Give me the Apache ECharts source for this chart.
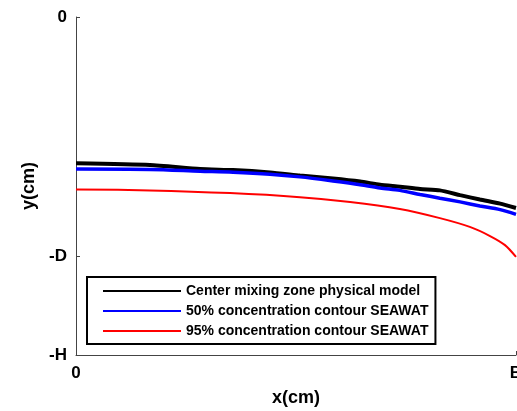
<!DOCTYPE html>
<html>
<head>
<meta charset="utf-8">
<script src="https://cdn.jsdelivr.net/npm/echarts@6/dist/echarts.min.js"></script>
<style>
  html, body { margin: 0; padding: 0; background: #fff; }
  #chart { width: 517px; height: 411px; }
</style>
</head>
<body>
<div id="chart"></div>
<script>
// Horizontal position as percent of the domain width B, depth as percent of H (negative downwards)
const xTickValues = [0, 100];
const xTickLabels = ['0', 'B'];
const yTickValues = [0, -70.7, -100];
const yTickLabels = ['0', '-D', '-H'];

const seriesNames = [
  'Center mixing zone physical model',
  '50% concentration contour SEAWAT',
  '95% concentration contour SEAWAT'
];

const physicalX = [0, 16.8, 28.2, 35.7, 44.1, 50.9, 58.4, 64.6, 69.1, 73.6, 78.2, 82.7, 87.3, 91.8, 96.4, 100];
const physicalY = [-43.3, -43.8, -45.0, -45.3, -46.0, -46.9, -47.8, -48.7, -49.6, -50.2, -50.9, -51.3, -52.7, -54.0, -55.2, -56.5];

const contour50X = [0, 16.8, 28.2, 35.7, 44.1, 50.9, 58.4, 64.6, 69.1, 73.6, 78.2, 82.7, 87.3, 91.8, 96.4, 100];
const contour50Y = [-45.0, -45.1, -45.6, -45.9, -46.5, -47.3, -48.5, -49.6, -50.6, -51.3, -52.5, -53.6, -54.7, -55.9, -57.0, -58.4];

const contour95X = [0, 16.8, 35, 50.9, 62.3, 73.6, 82.7, 89.5, 94.1, 97.5, 100];
const contour95Y = [-51.0, -51.3, -52.1, -53.3, -54.7, -56.8, -59.5, -62.1, -64.8, -67.5, -71.0];

function pairs(xs, ys) { return xs.map((x, i) => [x, ys[i]]); }

const font = 'Arial, "Liberation Sans", Helvetica, sans-serif';
const axisColor = '#444';

const chart = echarts.init(document.getElementById('chart'), null, { renderer: 'canvas' });

chart.setOption({
  animation: false,
  backgroundColor: '#fff',
  grid: { left: 76, top: 17, right: 1, bottom: 56, containLabel: false, outerBoundsMode: 'none' },
  legend: {
    orient: 'vertical',
    left: 87,
    top: 277,
    itemWidth: 78,
    itemHeight: 14,
    itemGap: 6,
    padding: [7, 7, 6, 15],
    borderColor: '#000',
    borderWidth: 2,
    backgroundColor: '#fff',
    itemStyle: { opacity: 0 },
    textStyle: { fontFamily: font, fontWeight: 'bold', fontSize: 14, color: '#000' },
    data: seriesNames
  },
  xAxis: {
    type: 'value',
    min: 0,
    max: 100,
    name: 'x(cm)',
    nameLocation: 'middle',
    nameGap: 34,
    nameTextStyle: { fontFamily: font, fontWeight: 'bold', fontSize: 18, color: '#000' },
    axisLine: { show: true, onZero: false, lineStyle: { color: axisColor, width: 1 } },
    axisTick: { show: true, inside: true, length: 4, customValues: [100], lineStyle: { color: axisColor } },
    axisLabel: {
      customValues: xTickValues,
      margin: 10,
      fontFamily: font, fontWeight: 'bold', fontSize: 17, color: '#000',
      formatter: v => xTickLabels[xTickValues.indexOf(v)] ?? ''
    },
    splitLine: { show: false }
  },
  yAxis: {
    type: 'value',
    min: -100,
    max: 0,
    name: 'y(cm)',
    nameLocation: 'middle',
    nameGap: 38,
    nameTextStyle: { fontFamily: font, fontWeight: 'bold', fontSize: 18, color: '#000' },
    axisLine: { show: true, onZero: false, lineStyle: { color: axisColor, width: 1 } },
    axisTick: { show: true, inside: true, length: 4, customValues: [0, -70.7], lineStyle: { color: axisColor } },
    axisLabel: {
      customValues: yTickValues,
      margin: 9,
      fontFamily: font, fontWeight: 'bold', fontSize: 17, color: '#000',
      padding: [4, 0, 0, 0],
      formatter: v => yTickLabels[yTickValues.indexOf(v)] ?? ''
    },
    splitLine: { show: false }
  },
  series: [
    {
      name: seriesNames[0], type: 'line', data: pairs(physicalX, physicalY),
      showSymbol: false, symbol: 'none', smooth: 0.2,
      lineStyle: { color: '#000', width: 4 }, itemStyle: { color: '#000' }, z: 3
    },
    {
      name: seriesNames[1], type: 'line', data: pairs(contour50X, contour50Y),
      showSymbol: false, symbol: 'none', smooth: 0.3,
      lineStyle: { color: '#0000ff', width: 3.5 }, itemStyle: { color: '#0000ff' }, z: 4
    },
    {
      name: seriesNames[2], type: 'line', data: pairs(contour95X, contour95Y),
      showSymbol: false, symbol: 'none', smooth: 0.3,
      lineStyle: { color: '#ff0000', width: 2 }, itemStyle: { color: '#ff0000' }, z: 4
    }
  ]
});
</script>
</body>
</html>
